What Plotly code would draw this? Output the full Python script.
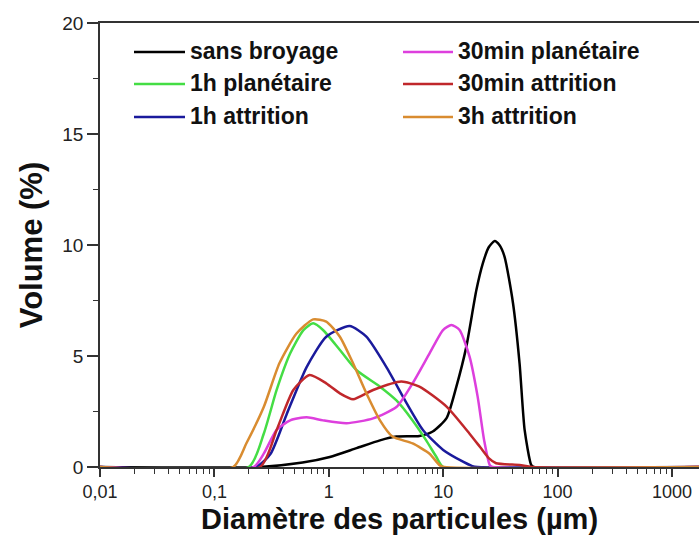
import plotly.graph_objects as go

# Particle size distributions (volume %) vs diameter (µm)
names = ["sans broyage", "1h planétaire", "1h attrition",
         "30min planétaire", "30min attrition", "3h attrition"]
colors = ["#000000", "#44dd44", "#1a1a9c", "#dd3fdd", "#c0272b", "#d98c30"]

x_sans = [0.01, 0.25, 0.59, 1.02, 1.75, 2.8, 3.9, 6.2, 8.1, 10.7, 13, 15.9, 19.5,
          22.2, 25, 28.2, 31, 34.4, 40.7, 46.5, 51.5, 58.8, 62, 2000]
y_sans = [0, 0, 0.2, 0.45, 0.85, 1.2, 1.37, 1.4, 1.6, 2.2, 3.6, 5.4, 7.97,
          9.17, 9.9, 10.18, 10.0, 9.47, 7.4, 4.67, 1.67, 0.09, 0, 0]

x_1hp = [0.01, 0.2, 0.27, 0.35, 0.46, 0.6, 0.73, 0.89, 1.25, 1.74, 2.8, 3.9, 5.4,
         7.1, 8.7, 10, 2000]
y_1hp = [0, 0, 1.5, 3.47, 5.12, 6.17, 6.47, 6.17, 5.27, 4.37, 3.62, 3.0, 2.1,
         1.2, 0.46, 0, 0]

x_1ha = [0.01, 0.23, 0.31, 0.43, 0.64, 0.95, 1.52, 2.13, 3.17, 4.8, 6.65, 10,
         14.9, 18, 20, 2000]
y_1ha = [0, 0, 0.6, 2.4, 4.5, 5.87, 6.35, 5.87, 4.52, 2.87, 1.67, 0.77,
         0.24, 0.04, 0, 0]

x_30p = [0.01, 0.22, 0.27, 0.35, 0.46, 0.64, 0.89, 1.43, 2.44, 3.9, 5.4, 7.6,
         9.96, 11.8, 13.9, 17, 20, 22.8, 25.5, 27, 2000]
y_30p = [0, 0, 0.6, 1.67, 2.1, 2.24, 2.1, 1.97, 2.19, 2.7, 3.77, 5.12,
         6.17, 6.4, 6.17, 4.97, 3.17, 1.2, 0.09, 0, 0]

x_30a = [0.01, 0.25, 0.35, 0.49, 0.68, 0.95, 1.25, 1.63, 2.44, 4.3, 6.2, 10.7,
         17, 21, 25, 29, 46.5, 60, 2000]
y_30a = [0, 0, 1.67, 3.47, 4.14, 3.77, 3.32, 3.05, 3.47, 3.85, 3.62, 2.72,
         1.5, 0.9, 0.4, 0.17, 0.09, 0, 0]

x_3ha = [0.01, 0.146, 0.19, 0.27, 0.37, 0.52, 0.73, 0.95, 1.25, 1.63, 2.13, 2.8,
         3.6, 5.4, 7.6, 9.3, 10.2, 2000]
y_3ha = [0, 0, 1.06, 2.7, 4.67, 6.0, 6.65, 6.55, 5.87, 4.67, 3.32, 2.1,
         1.37, 1.06, 0.6, 0.08, 0, 0]

series_x = [x_sans, x_1hp, x_1ha, x_30p, x_30a, x_3ha]
series_y = [y_sans, y_1hp, y_1ha, y_30p, y_30a, y_3ha]

x_tickvals = [0.01, 0.1, 1, 10, 100, 1000]
x_ticktext = ["0,01", "0,1", "1", "10", "100", "1000"]
y_tickvals = [0, 5, 10, 15, 20]

fig = go.Figure()
for i, name in enumerate(names):
    fig.add_trace(go.Scatter(
        x=series_x[i], y=series_y[i], name=name, mode="lines",
        line=dict(color=colors[i], width=2.5, shape="spline", smoothing=0.6),
        showlegend=False,
    ))

# Layout geometry in pixels, converted to paper coordinates for the key
W, H = 699, 548
ML, MR, MT, MB = 100, 0, 23, 81
pw, ph = W - ML - MR, H - MT - MB


def px_x(p):
    return (p - ML) / pw


def px_y(p):
    return (H - MB - p) / ph


# Two-column key: line sample + bold label
key_cols = [(134, 185, 188), (403, 453, 456)]   # line start, line end, text start
key_rows = [52, 84, 117]
font_family = "Liberation Sans, Arial, sans-serif"
for i, name in enumerate(names):
    col, row = divmod(i, 3)
    x0, x1, xt = key_cols[col]
    yy = key_rows[row]
    fig.add_shape(type="line", xref="paper", yref="paper",
                  x0=px_x(x0), x1=px_x(x1), y0=px_y(yy), y1=px_y(yy),
                  line=dict(color=colors[i], width=2.5))
    fig.add_annotation(xref="paper", yref="paper", x=px_x(xt), y=px_y(yy - 1),
                       text=name, showarrow=False, xanchor="left", yanchor="middle",
                       font=dict(family=font_family, size=23, color="#111",
                                 weight="bold"))

# x-axis title placed just under the tick labels
fig.add_annotation(xref="paper", yref="paper", x=0.5, y=px_y(519),
                   text="Diamètre des particules (µm)", showarrow=False,
                   xanchor="center", yanchor="middle",
                   font=dict(family=font_family, size=29, color="#111",
                             weight="bold"))

minor_x = [m * 10 ** d for d in range(-2, 4) for m in range(2, 10)]

fig.update_layout(
    width=W, height=H,
    margin=dict(l=ML, r=MR, t=MT, b=MB),
    paper_bgcolor="white", plot_bgcolor="white",
    font=dict(family=font_family, color="#222"),
    showlegend=False,
    xaxis=dict(
        type="log", range=[-2, 3.236],
        tickvals=x_tickvals, ticktext=x_ticktext,
        ticks="outside", ticklen=8, tickwidth=1.5, tickcolor="#333",
        minor=dict(tickvals=minor_x, ticks="outside", ticklen=5,
                   tickwidth=1.2, tickcolor="#333"),
        showline=True, linecolor="#333", linewidth=1.5, mirror=True,
        showgrid=False, zeroline=False, layer="below traces",
        tickfont=dict(size=18, color="#222"),
    ),
    yaxis=dict(
        range=[0, 20], tickvals=y_tickvals,
        ticks="outside", ticklen=11, tickwidth=1.5, tickcolor="#333",
        minor=dict(dtick=2.5, ticks="outside", ticklen=5,
                   tickwidth=1.2, tickcolor="#333"),
        showline=True, linecolor="#333", linewidth=1.5,
        showgrid=False, zeroline=False, layer="below traces",
        tickfont=dict(size=19, color="#222"),
        title=dict(text="Volume (%)", standoff=10,
                   font=dict(size=31, color="#111", weight="bold")),
    ),
)

fig.write_html("out.html")
